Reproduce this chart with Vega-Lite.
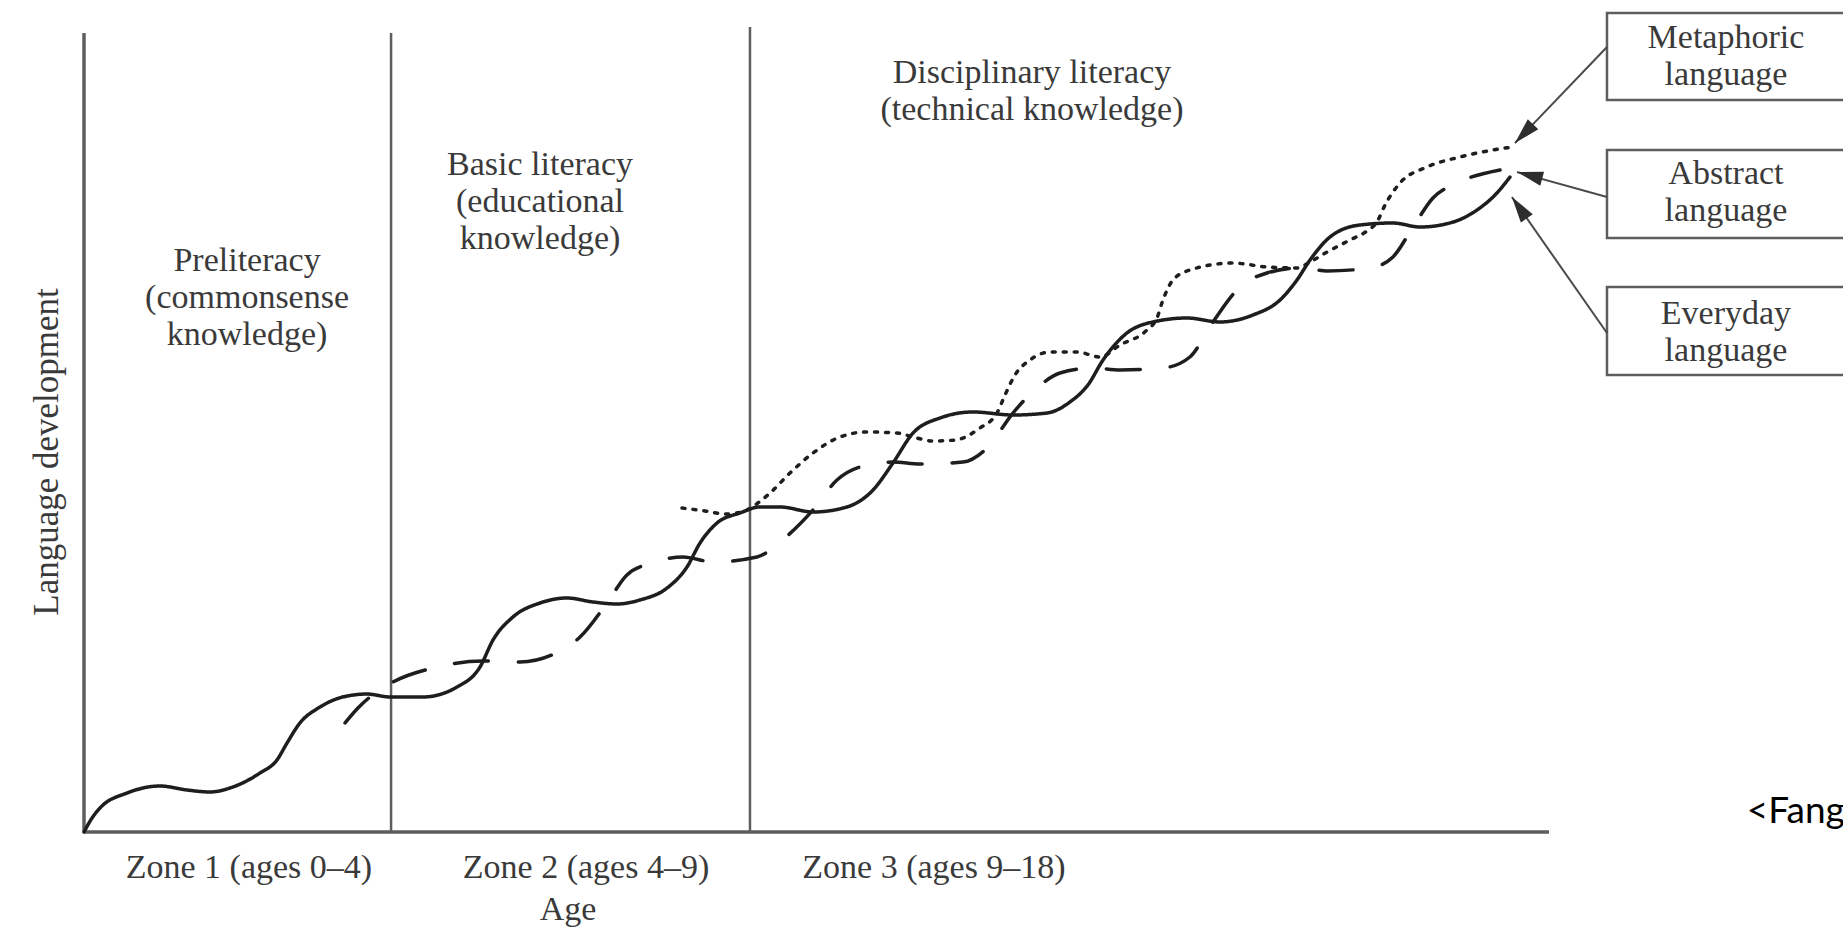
{
 "$schema": "https://vega.github.io/schema/vega-lite/v6.json",
 "width": 1843,
 "height": 929,
 "autosize": {"type": "none"},
 "padding": 0,
 "background": "#ffffff",
 "config": {"view": {"stroke": null}},
 "datasets": {
  "frame": [
   {"x": 0, "y": 0, "x2": 0, "y2": 100.25},
   {"x": 0, "y": 0, "x2": 100, "y2": 0}
  ],
  "dividers": [
   {"x": 20.96, "y": 0, "x2": 20.96, "y2": 100.25},
   {"x": 45.46, "y": 0, "x2": 45.46, "y2": 101.0}
  ],
  "curves": [
   {"s":"Everyday language","x":0,"y":0},{"s":"Everyday language","x":0.55,"y":1.76},{"s":"Everyday language","x":1.09,"y":3.01},{"s":"Everyday language","x":2.94,"y":4.89},{"s":"Everyday language","x":5.19,"y":5.77},{"s":"Everyday language","x":7.03,"y":5.27},{"s":"Everyday language","x":8.6,"y":5.02},{"s":"Everyday language","x":10.17,"y":5.65},{"s":"Everyday language","x":12.01,"y":7.4},{"s":"Everyday language","x":13.17,"y":9.03},{"s":"Everyday language","x":13.86,"y":11.17},{"s":"Everyday language","x":14.74,"y":13.68},{"s":"Everyday language","x":16.11,"y":15.68},{"s":"Everyday language","x":17.68,"y":16.94},{"s":"Everyday language","x":19.32,"y":17.31},{"s":"Everyday language","x":20.89,"y":16.94},{"s":"Everyday language","x":23.14,"y":16.94},{"s":"Everyday language","x":25.46,"y":18.19},{"s":"Everyday language","x":27.03,"y":20.7},{"s":"Everyday language","x":27.92,"y":24.09},{"s":"Everyday language","x":29.28,"y":26.98},{"s":"Everyday language","x":31.13,"y":28.73},{"s":"Everyday language","x":32.97,"y":29.36},{"s":"Everyday language","x":34.74,"y":28.86},{"s":"Everyday language","x":36.38,"y":28.61},{"s":"Everyday language","x":37.95,"y":29.11},{"s":"Everyday language","x":39.8,"y":30.61},{"s":"Everyday language","x":41.16,"y":33.25},{"s":"Everyday language","x":42.05,"y":36.26},{"s":"Everyday language","x":43.21,"y":38.77},{"s":"Everyday language","x":44.78,"y":40.03},{"s":"Everyday language","x":46.14,"y":40.78},{"s":"Everyday language","x":47.51,"y":40.78},{"s":"Everyday language","x":49.76,"y":40.15},{"s":"Everyday language","x":52.08,"y":40.78},{"s":"Everyday language","x":53.86,"y":42.91},{"s":"Everyday language","x":55.22,"y":46.3},{"s":"Everyday language","x":56.59,"y":50.06},{"s":"Everyday language","x":58.43,"y":51.94},{"s":"Everyday language","x":60.68,"y":52.7},{"s":"Everyday language","x":63.41,"y":52.32},{"s":"Everyday language","x":65.73,"y":52.57},{"s":"Everyday language","x":67.3,"y":53.95},{"s":"Everyday language","x":68.53,"y":56.09},{"s":"Everyday language","x":69.56,"y":59.22},{"s":"Everyday language","x":71.19,"y":62.61},{"s":"Everyday language","x":72.97,"y":63.99},{"s":"Everyday language","x":75.29,"y":64.49},{"s":"Everyday language","x":77.54,"y":63.99},{"s":"Everyday language","x":79.8,"y":64.87},{"s":"Everyday language","x":81.64,"y":66.75},{"s":"Everyday language","x":82.8,"y":69.26},{"s":"Everyday language","x":83.69,"y":71.77},{"s":"Everyday language","x":85.05,"y":74.65},{"s":"Everyday language","x":87.1,"y":76.16},{"s":"Everyday language","x":89.35,"y":76.41},{"s":"Everyday language","x":91.19,"y":75.91},{"s":"Everyday language","x":93.24,"y":76.41},{"s":"Everyday language","x":95.09,"y":78.04},{"s":"Everyday language","x":96.45,"y":80.18},{"s":"Everyday language","x":97.34,"y":82.18},
   {"s":"Abstract language","x":17.82,"y":13.68},{"s":"Abstract language","x":18.7,"y":15.56},{"s":"Abstract language","x":19.52,"y":16.94},{"s":"Abstract language","x":21.09,"y":18.82},{"s":"Abstract language","x":23.82,"y":20.58},{"s":"Abstract language","x":27.24,"y":21.46},{"s":"Abstract language","x":29.76,"y":21.33},{"s":"Abstract language","x":32.35,"y":22.58},{"s":"Abstract language","x":33.86,"y":24.47},{"s":"Abstract language","x":35.7,"y":28.73},{"s":"Abstract language","x":37.06,"y":32.25},{"s":"Abstract language","x":38.77,"y":33.75},{"s":"Abstract language","x":40.89,"y":34.5},{"s":"Abstract language","x":42.94,"y":33.88},{"s":"Abstract language","x":45.94,"y":34.5},{"s":"Abstract language","x":47.51,"y":36.39},{"s":"Abstract language","x":49.76,"y":40.4},{"s":"Abstract language","x":51.4,"y":44.17},{"s":"Abstract language","x":52.97,"y":45.8},{"s":"Abstract language","x":55.22,"y":46.42},{"s":"Abstract language","x":57.06,"y":46.17},{"s":"Abstract language","x":60.0,"y":46.42},{"s":"Abstract language","x":61.64,"y":48.18},{"s":"Abstract language","x":63.41,"y":52.57},{"s":"Abstract language","x":65.05,"y":55.71},{"s":"Abstract language","x":66.62,"y":57.59},{"s":"Abstract language","x":68.87,"y":58.22},{"s":"Abstract language","x":70.72,"y":57.97},{"s":"Abstract language","x":73.65,"y":58.22},{"s":"Abstract language","x":75.49,"y":59.6},{"s":"Abstract language","x":77.06,"y":63.99},{"s":"Abstract language","x":78.91,"y":68.38},{"s":"Abstract language","x":80.75,"y":70.14},{"s":"Abstract language","x":83.0,"y":70.77},{"s":"Abstract language","x":84.85,"y":70.39},{"s":"Abstract language","x":87.78,"y":70.77},{"s":"Abstract language","x":89.35,"y":72.15},{"s":"Abstract language","x":90.72,"y":75.91},{"s":"Abstract language","x":92.08,"y":79.55},{"s":"Abstract language","x":93.72,"y":81.43},{"s":"Abstract language","x":96.66,"y":83.06},
   {"s":"Metaphoric language","x":40.82,"y":40.65},{"s":"Metaphoric language","x":42.39,"y":40.28},{"s":"Metaphoric language","x":43.75,"y":39.9},{"s":"Metaphoric language","x":44.91,"y":40.15},{"s":"Metaphoric language","x":45.8,"y":41.03},{"s":"Metaphoric language","x":46.83,"y":42.53},{"s":"Metaphoric language","x":48.19,"y":45.04},{"s":"Metaphoric language","x":49.76,"y":47.55},{"s":"Metaphoric language","x":51.6,"y":49.56},{"s":"Metaphoric language","x":53.45,"y":50.19},{"s":"Metaphoric language","x":55.49,"y":50.06},{"s":"Metaphoric language","x":56.59,"y":49.56},{"s":"Metaphoric language","x":57.95,"y":49.06},{"s":"Metaphoric language","x":59.45,"y":49.18},{"s":"Metaphoric language","x":61.16,"y":50.69},{"s":"Metaphoric language","x":62.32,"y":52.57},{"s":"Metaphoric language","x":62.87,"y":54.83},{"s":"Metaphoric language","x":63.55,"y":57.34},{"s":"Metaphoric language","x":64.57,"y":59.22},{"s":"Metaphoric language","x":65.94,"y":60.23},{"s":"Metaphoric language","x":67.78,"y":60.23},{"s":"Metaphoric language","x":69.35,"y":59.6},{"s":"Metaphoric language","x":70.72,"y":61.1},{"s":"Metaphoric language","x":72.56,"y":62.99},{"s":"Metaphoric language","x":73.24,"y":64.49},{"s":"Metaphoric language","x":73.65,"y":66.75},{"s":"Metaphoric language","x":74.33,"y":69.26},{"s":"Metaphoric language","x":75.49,"y":70.51},{"s":"Metaphoric language","x":78.43,"y":71.39},{"s":"Metaphoric language","x":80.75,"y":70.89},{"s":"Metaphoric language","x":82.8,"y":70.77},{"s":"Metaphoric language","x":83.69,"y":71.52},{"s":"Metaphoric language","x":84.85,"y":72.77},{"s":"Metaphoric language","x":86.42,"y":74.28},{"s":"Metaphoric language","x":87.58,"y":75.41},{"s":"Metaphoric language","x":88.26,"y":76.54},{"s":"Metaphoric language","x":88.81,"y":78.67},{"s":"Metaphoric language","x":89.83,"y":81.43},{"s":"Metaphoric language","x":91.67,"y":83.44},{"s":"Metaphoric language","x":93.92,"y":84.69},{"s":"Metaphoric language","x":96.18,"y":85.57},{"s":"Metaphoric language","x":97.54,"y":85.95}
  ],
  "boxes": [
   {"name": "Metaphoric language", "x": 103.96, "x2": 130, "y": 102.76, "y2": 91.84},
   {"name": "Abstract language", "x": 103.96, "x2": 130, "y": 85.57, "y2": 74.53},
   {"name": "Everyday language", "x": 103.96, "x2": 130, "y": 68.38, "y2": 57.34}
  ],
  "arrows": [
   {"name": "Metaphoric language", "x": 103.96, "y": 98.49, "x2": 97.68, "y2": 86.45},
   {"name": "Abstract language", "x": 103.96, "y": 79.67, "x2": 97.82, "y2": 82.81},
   {"name": "Everyday language", "x": 103.96, "y": 62.61, "x2": 97.47, "y2": 79.67}
  ],
  "notes": [
   {"t": "Preliteracy\n(commonsense\nknowledge)", "x": 11.13, "y": 71.64},
   {"t": "Basic literacy\n(educational\nknowledge)", "x": 31.13, "y": 83.69},
   {"t": "Disciplinary literacy\n(technical knowledge)", "x": 64.71, "y": 95.23},
   {"t": "Zone 1 (ages 0–4)", "x": 11.26, "y": -4.52},
   {"t": "Zone 2 (ages 4–9)", "x": 34.27, "y": -4.52},
   {"t": "Zone 3 (ages 9–18)", "x": 58.02, "y": -4.52},
   {"t": "Age", "x": 33.04, "y": -9.8},
   {"t": "Metaphoric\nlanguage", "x": 112.08, "y": 99.62},
   {"t": "Abstract\nlanguage", "x": 112.08, "y": 82.56},
   {"t": "Everyday\nlanguage", "x": 112.08, "y": 64.99}
  ],
  "ytitle": [{"t": "Language development", "x": -2.53, "y": 47.68}],
  "source": [{"t": "<Fang(", "x": 113.5, "y": 1.13}]
 },
 "encoding": {
  "x": {"field": "x", "type": "quantitative", "scale": {"domain": [-5.734, 120.07], "nice": false, "zero": false}, "axis": null},
  "y": {"field": "y", "type": "quantitative", "scale": {"domain": [-12.17, 104.39], "nice": false, "zero": false}, "axis": null}
 },
 "layer": [
  {"data": {"name": "frame"}, "mark": {"type": "rule", "color": "#5e5e5e", "strokeWidth": 3.5}, "encoding": {"x2": {"field": "x2"}, "y2": {"field": "y2"}}},
  {"data": {"name": "dividers"}, "mark": {"type": "rule", "color": "#5e5e5e", "strokeWidth": 2.5}, "encoding": {"x2": {"field": "x2"}, "y2": {"field": "y2"}}},
  {"data": {"name": "curves"}, "mark": {"type": "line", "color": "#1e1e1e", "strokeWidth": 3.5, "strokeCap": "round", "interpolate": "monotone"},
   "encoding": {"strokeDash": {"field": "s", "type": "nominal", "scale": {"domain": ["Everyday language", "Abstract language", "Metaphoric language"], "range": [[1, 0], [34, 30], [3, 8]]}, "legend": null}}},
  {"data": {"name": "boxes"}, "mark": {"type": "rect", "fill": "#ffffff", "stroke": "#5e5e5e", "strokeWidth": 2.5}, "encoding": {"x2": {"field": "x2"}, "y2": {"field": "y2"}}},
  {"data": {"name": "arrows"}, "mark": {"type": "rule", "color": "#4a4a4a", "strokeWidth": 2}, "encoding": {"x2": {"field": "x2"}, "y2": {"field": "y2"}}},
  {"data": {"name": "arrows"}, "transform": [{"filter": "datum.name === 'Metaphoric language'"}],
   "mark": {"type": "point", "shape": "M0,0L0.28,1L-0.28,1Z", "size": 2704, "filled": true, "color": "#2e2e2e", "opacity": 1, "angle": 224},
   "encoding": {"x": {"field": "x2", "type": "quantitative", "scale": {"domain": [-5.734, 120.07], "nice": false, "zero": false}, "axis": null}, "y": {"field": "y2", "type": "quantitative", "scale": {"domain": [-12.17, 104.39], "nice": false, "zero": false}, "axis": null}}},
  {"data": {"name": "arrows"}, "transform": [{"filter": "datum.name === 'Abstract language'"}],
   "mark": {"type": "point", "shape": "M0,0L0.28,1L-0.28,1Z", "size": 2704, "filled": true, "color": "#2e2e2e", "opacity": 1, "angle": 285},
   "encoding": {"x": {"field": "x2", "type": "quantitative", "scale": {"domain": [-5.734, 120.07], "nice": false, "zero": false}, "axis": null}, "y": {"field": "y2", "type": "quantitative", "scale": {"domain": [-12.17, 104.39], "nice": false, "zero": false}, "axis": null}}},
  {"data": {"name": "arrows"}, "transform": [{"filter": "datum.name === 'Everyday language'"}],
   "mark": {"type": "point", "shape": "M0,0L0.28,1L-0.28,1Z", "size": 2704, "filled": true, "color": "#2e2e2e", "opacity": 1, "angle": 325},
   "encoding": {"x": {"field": "x2", "type": "quantitative", "scale": {"domain": [-5.734, 120.07], "nice": false, "zero": false}, "axis": null}, "y": {"field": "y2", "type": "quantitative", "scale": {"domain": [-12.17, 104.39], "nice": false, "zero": false}, "axis": null}}},
  {"data": {"name": "notes"}, "mark": {"type": "text", "font": "Liberation Serif", "fontSize": 34, "color": "#3a3a3a", "align": "center", "baseline": "middle", "lineBreak": "\n", "lineHeight": 37}, "encoding": {"text": {"field": "t"}}},
  {"data": {"name": "ytitle"}, "mark": {"type": "text", "font": "Liberation Serif", "fontSize": 35, "color": "#3a3a3a", "align": "center", "baseline": "middle", "angle": 270}, "encoding": {"text": {"field": "t"}}},
  {"data": {"name": "source"}, "mark": {"type": "text", "font": "Lato", "fontSize": 37, "color": "#000000", "align": "left", "baseline": "alphabetic"}, "encoding": {"text": {"field": "t"}}}
 ]
}
